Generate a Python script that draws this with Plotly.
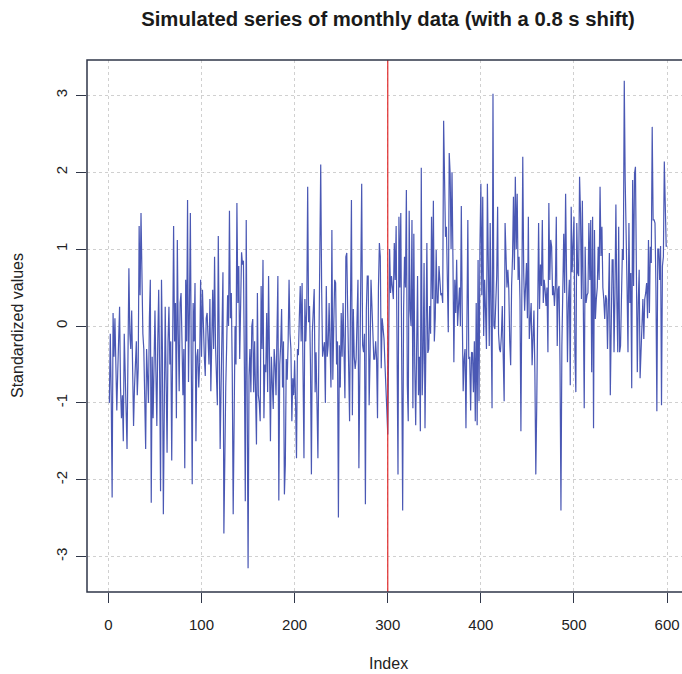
import plotly.graph_objects as go

# ---- data ----
values = [
    -1.0, -0.1, -0.9, -2.23, 0.17, -0.4, 0.1, -0.5, -1.1, -0.6,
    -0.2, 0.25, -0.8, -1.2, -0.9, -1.5, -0.1, -0.7, -1.0, -1.6,
    -0.4, 0.75, -0.1, -0.3, 0.2, -0.6, -1.3, -0.8, -0.55, -0.2,
    -0.9, -0.55, 1.3, 0.4, 1.47, 0.5, -0.1, -0.3, -0.8, -1.6,
    -0.3, -0.6, -1.0, 0.1, 0.6, -2.3, -0.4, -1.2, -0.5, 0.2,
    -0.6, -1.3, -0.2, 0.47, -0.6, -2.15, 0.6, -0.3, -2.45, -0.4,
    0.25, -0.7, -1.65, -0.2, 0.25, -0.5, -0.2, -1.75, 0.3, 1.3,
    -0.2, 0.3, -1.2, 1.12, -0.1, -0.85, 0.3, 0.43, -0.2, -0.9,
    -0.3, -1.85, 0.6, -0.2, 1.64, -0.73, 0.2, 1.47, -0.5, -2.06,
    0.3, -0.2, 0.56, -1.5, -0.4, -0.3, -0.8, -0.47, 0.6, -0.4,
    0.47, -0.2, -0.4, -0.65, 0.1, 0.17, -0.17, -0.5, 0.35, -0.85,
    -0.2, 0.47, -0.3, 0.9, -0.25, -0.6, -1.03, 1.17, -0.4, -1.6,
    -0.8, 0.2, 0.7, -2.7, -1.24, -0.8, -0.25, 0.4, 0.0, 1.5,
    0.1, 0.43, -0.6, -2.45, -1.24, 0.0, -0.5, 1.6, 0.3, 0.78,
    -0.43, 0.2, 0.96, 0.8, 0.85, -0.5, -2.28, 1.38, -0.5, -3.15,
    -0.65, -0.3, -0.86, 0.0, 0.09, -0.86, -0.2, -0.7, -1.54, 0.43,
    -0.9, -1.0, -1.24, 0.52, -0.3, 0.86, -1.2, -0.5, -0.6, 0.17,
    -0.86, 0.65, -0.2, -1.5, -0.4, -0.7, -1.08, -0.3, -0.5, -0.9,
    0.1, 0.65, -2.27, -0.5, -0.25, 0.22, -0.8, -0.2, -2.19, -1.8,
    -0.43, -0.7, -0.21, 0.6, -0.1, -0.3, -1.24, -0.68, -0.9, -0.45,
    -1.0, -1.72, -0.3, -0.38, 0.1, 0.52, -0.2, 0.56, -0.6, -1.72,
    0.35, -0.2, 0.22, 1.81, 0.05, 0.26, -0.5, -1.93, -0.08, 0.2,
    0.48, -0.86, -0.34, -1.0, -1.72, -0.34, 0.6, 2.1, 0.48, -0.4,
    -0.3, -0.21, -1.0, 0.52, -0.4, -0.25, 0.3, -0.3, -0.8, 1.25,
    -0.7, 0.0, 0.6, 0.56, -0.5, -0.2, -2.49, -0.25, -0.8, 0.17,
    -0.4, 0.3, -0.2, -0.94, 0.9, 0.95, 0.17, -0.5, -1.24, 0.3,
    1.64, -1.16, 0.22, -0.4, -0.56, -0.43, 0.3, 0.6, -1.85, -0.2,
    0.43, 1.85, -0.25, -0.34, -0.1, -2.32, 0.2, 0.65, 0.65, -1.03,
    -0.4, 0.6, 0.26, -0.3, -0.43, -0.43, -0.2, -0.43, -1.2, 0.5,
    1.08, 0.9, -0.55, 0.1, -0.04, -0.17, -0.5, -0.94, -1.1, -1.41,
    -0.3, 1.0, 0.43, 0.65, 0.5, 0.35, 1.08, 0.6, 1.3, -0.2,
    -1.93, 1.42, 0.5, 1.47, -1.24, -2.4, 0.2, 0.9, 0.5, 1.77,
    -0.77, -1.24, 1.5, 0.2, 0.0, 1.38, -1.07, 1.2, -0.5, -1.29,
    -0.3, 0.65, -0.9, -0.4, -1.37, 2.06, -0.9, -0.4, 0.82, -1.33,
    -0.2, 1.08, -0.35, -0.3, 0.26, -0.1, 1.42, 0.35, 1.63, -0.2,
    0.1, 0.99, 0.3, 0.3, 0.78, 0.52, 0.4, 0.43, 0.3, 2.67,
    1.72, 1.16, 1.29, 0.7, -0.08, 2.25, 1.98, 1.0, 2.0, 0.86,
    -0.47, 0.6, 0.17, 0.86, 0.0, 0.26, 0.5, 0.0, 1.56, 0.17,
    -0.85, -0.43, -0.3, -1.33, -0.08, 1.38, -0.43, -0.4, -1.1, -0.34,
    -0.35, -0.86, -0.2, -1.24, 0.3, -1.29, 0.86, -0.98, 1.04, 1.85,
    0.4, 1.68, -0.13, 0.6, 0.2, -0.3, 1.85, 0.17, -0.26, 1.34,
    0.3, -1.07, 3.02, 0.0, -0.04, 0.3, 0.65, 1.55, -0.1, -0.3,
    -0.34, -0.13, 0.26, -0.4, -0.98, 1.34, 0.95, 0.5, 0.73, 0.47,
    -0.2, -0.51, 0.52, 0.9, 1.68, 0.73, 1.94, 1.0, 1.72, 0.6,
    0.9, 0.35, -1.37, 0.5, 2.2, 0.69, 0.2, 0.52, 0.82, 0.1,
    1.42, -0.17, 0.09, 0.3, -0.51, -0.17, 0.2, -0.6, -1.93, -1.03,
    0.35, 1.34, 0.22, 0.8, 0.52, 1.38, 0.3, 0.6, 0.47, 0.26,
    0.5, -0.34, 1.6, 0.6, 1.12, 1.03, 0.4, 0.52, 0.26, 0.5,
    1.42, -0.26, 0.48, 0.52, -0.5, -2.4, -0.26, 0.3, 1.2, 0.43,
    1.72, 0.69, -0.47, 0.3, 0.6, -0.77, 1.55, 0.7, 1.25, 1.42,
    -0.34, -0.86, 1.34, 0.69, 0.65, 1.94, 1.47, 0.35, 1.63, 0.13,
    -1.07, 1.03, 0.3, 0.4, 0.43, 1.34, 0.6, 1.38, -0.6, 1.42,
    -1.33, 1.25, 0.09, 0.35, 0.5, 1.03, 0.6, 1.81, 0.91, 1.29,
    0.5, 0.35, 0.09, 0.4, 0.35, -0.3, 0.4, 0.95, -0.9, 0.3,
    0.86, 0.86, -0.34, 0.43, 1.58, 0.35, -0.34, 1.29, -0.34, -0.26,
    0.5, 1.0, 0.86, 3.19, 1.89, 1.38, 0.5, -0.34, 1.34, 0.3,
    0.69, -0.81, 1.9, 0.52, 1.98, 2.07, 0.26, -0.6, 0.3, 0.73,
    -0.68, -0.26, -0.09, 0.35, -0.17, 0.35, 0.43, 0.56, 0.1, 1.12,
    0.17, 1.03, 0.82, 2.59, 1.38, 1.38, 1.34, 0.5, -1.11, 1.0,
    1.0, 0.6, 1.04, -1.03, 0.78, 0.9, 2.14, 1.38, 1.04, 1.04,
]
index = list(range(1, len(values) + 1))
shift_index = 300
x_ticks = [0, 100, 200, 300, 400, 500, 600]
y_ticks = [-3, -2, -1, 0, 1, 2, 3]

title_text = "Simulated series of monthly data (with a 0.8 s shift)"
x_label = "Index"
y_label = "Standardized values"

FONT = "Liberation Sans, Arial, Helvetica, sans-serif"
AXIS_COL = "#2f3648"

fig = go.Figure()
fig.add_trace(go.Scatter(
    x=index, y=values, mode="lines",
    line=dict(color="#4a58b4", width=1.2),
    hoverinfo="skip", showlegend=False,
))

fig.update_layout(
    width=682, height=674,
    margin=dict(l=87, r=0, t=60, b=82),
    paper_bgcolor="white", plot_bgcolor="white",
    font=dict(family=FONT, color="#222", size=15),
    title=dict(
        text="<b>" + title_text + "</b>",
        font=dict(family=FONT, size=20.3, color="#1a1a1a"),
        x=388 / 682, xref="container", xanchor="center",
        y=1 - 19 / 674, yref="container", yanchor="middle",
    ),
    xaxis=dict(
        range=[-23, 616], tickvals=x_ticks, ticktext=[str(v) for v in x_ticks],
        showgrid=True, gridcolor="#d0d0d0", griddash="dot", gridwidth=1,
        zeroline=False, showline=False,
        ticks="outside", ticklen=10, tickcolor=AXIS_COL, tickwidth=1,
        ticklabelstandoff=9,
        tickfont=dict(size=15, color="#222"),
    ),
    yaxis=dict(
        range=[-3.46, 3.46], tickvals=y_ticks, ticktext=[str(v) for v in y_ticks],
        showgrid=True, gridcolor="#d0d0d0", griddash="dot", gridwidth=1,
        zeroline=False, showline=False,
        ticks="outside", ticklen=10, tickcolor=AXIS_COL, tickwidth=1,
        ticklabelstandoff=3,
        tickangle=-90, tickfont=dict(size=15, color="#222"),
    ),
    shapes=[
        dict(type="line", xref="x", yref="paper", x0=shift_index, x1=shift_index,
             y0=0, y1=1, line=dict(color="#e02a2a", width=1.2), layer="above"),
        dict(type="rect", xref="paper", yref="paper", x0=0, x1=1.2, y0=0, y1=1,
             line=dict(color=AXIS_COL, width=1.5), layer="above"),
    ],
    annotations=[
        dict(text=x_label, xref="paper", yref="paper",
             x=(388 - 87) / 595, y=(592 - 663) / 532,
             xanchor="center", yanchor="middle", showarrow=False,
             font=dict(size=16, color="#222")),
        dict(text=y_label, xref="paper", yref="paper",
             x=(17 - 87) / 595, y=0.5, textangle=-90,
             xanchor="center", yanchor="middle", showarrow=False,
             font=dict(size=16, color="#222")),
    ],
)

fig.write_html("out.html")
